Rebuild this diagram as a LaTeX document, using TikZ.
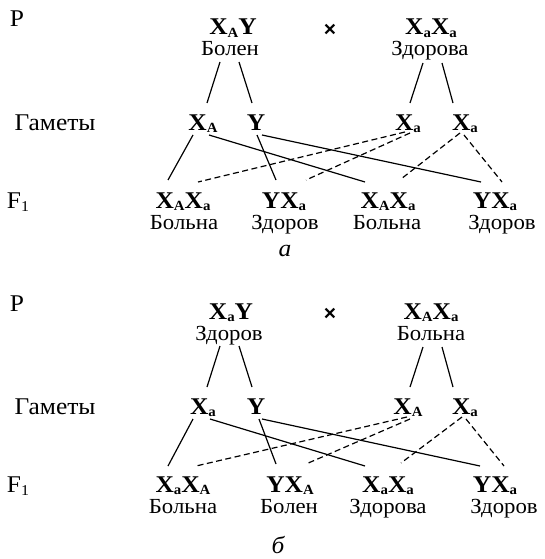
\documentclass[tikz,border=0pt]{standalone}
\usepackage{fontspec}
\setmainfont{Liberation Serif}[FakeStretch=1.06]
\newfontfamily\crossfont{Liberation Sans}
\newcommand\gsub[1]{\raisebox{-0.2ex}{\fontsize{14}{14}\selectfont\bfseries #1}}
\newcommand\fsub[1]{\raisebox{-0.35ex}{\fontsize{15}{15}\selectfont #1}}
\tikzset{
  lbl/.style={inner sep=0pt, anchor=base, font=\fontsize{24}{24}\selectfont},
  geno/.style={inner sep=0pt, anchor=base, font=\fontsize{24}{24}\selectfont\bfseries},
  pheno/.style={inner sep=0pt, anchor=base, font=\fontsize{21.5}{21.5}\selectfont},
  capt/.style={inner sep=0pt, anchor=base, font=\fontsize{24}{24}\selectfont\itshape},
  crossm/.style={inner sep=0pt, font=\fontsize{21}{21}\selectfont\crossfont\bfseries},
  link/.style={line width=1.2pt},
  dlink/.style={line width=1.2pt, dash pattern=on 6pt off 3.5pt}
}
\begin{document}
\begin{tikzpicture}[x=1pt,y=-1pt]
\useasboundingbox (0,0) rectangle (545,559);
% ---------- part a ----------
\node[lbl] (Pa) at (17,27) {P};
\node[geno] (pa1) at (233,35) {X\gsub{A}Y};
\node[pheno] (la1) at (230,56) {Болен};
\node[crossm] (xa) at (330,30) {×};
\node[geno] (pa2) at (431,35) {X\gsub{a}X\gsub{a}};
\node[pheno] (la2) at (430,56) {Здорова};
\node[lbl] (Ga) at (55,130) {Гаметы};
\node[geno] (ga1) at (203,130) {X\gsub{A}};
\node[geno] (ga2) at (256,130) {Y};
\node[geno] (ga3) at (408,130) {X\gsub{a}};
\node[geno] (ga4) at (465,130) {X\gsub{a}};
\node[lbl] (Fa) at (18,208) {F\fsub{1}};
\node[geno] (oa1) at (183,208) {X\gsub{A}X\gsub{a}};
\node[geno] (oa2) at (284,208) {YX\gsub{a}};
\node[geno] (oa3) at (388,208) {X\gsub{A}X\gsub{a}};
\node[geno] (oa4) at (495,208) {YX\gsub{a}};
\node[pheno] (fa1) at (184,229) {Больна};
\node[pheno] (fa2) at (285,229) {Здоров};
\node[pheno] (fa3) at (387,229) {Больна};
\node[pheno] (fa4) at (502,229) {Здоров};
\node[capt] (ca) at (285,256) {а};
\draw[link] ([shift={(-10,6)}]la1.base) -- ([shift={(4,-27)}]ga1.base);
\draw[link] ([shift={(9,6)}]la1.base) -- ([shift={(-4,-27)}]ga2.base);
\draw[link] ([shift={(-7,7)}]la2.base) -- ([shift={(2,-27)}]ga3.base);
\draw[link] ([shift={(12,7)}]la2.base) -- ([shift={(-12,-27)}]ga4.base);
\draw[link] ([shift={(-10,5)}]ga1.base) -- ([shift={(-15,-28)}]oa1.base);
\draw[link] ([shift={(6,5)}]ga1.base) -- ([shift={(-23,-26)}]oa3.base);
\draw[link] ([shift={(1,5)}]ga2.base) -- ([shift={(-8,-28)}]oa2.base);
\draw[link] ([shift={(6,5)}]ga2.base) -- ([shift={(-14,-26)}]oa4.base);
\draw[dlink] ([shift={(-3,2)}]ga3.base) -- ([shift={(15,-26)}]oa1.base);
\draw[dlink] ([shift={(2,3)}]ga3.base) -- ([shift={(22,-28)}]oa2.base);
\draw[dlink] ([shift={(-5,3)}]ga4.base) -- ([shift={(13,-29)}]oa3.base);
\draw[dlink] ([shift={(-1,5)}]ga4.base) -- ([shift={(7,-26)}]oa4.base);
% ---------- part b ----------
\node[lbl] (Pb) at (17,311) {P};
\node[geno] (pb1) at (231,319) {X\gsub{a}Y};
\node[pheno] (lb1) at (229,340) {Здоров};
\node[crossm] (xb) at (330,314) {×};
\node[geno] (pb2) at (431,319) {X\gsub{A}X\gsub{a}};
\node[pheno] (lb2) at (431,340) {Больна};
\node[lbl] (Gb) at (55,414) {Гаметы};
\node[geno] (gb1) at (203,414) {X\gsub{a}};
\node[geno] (gb2) at (256,414) {Y};
\node[geno] (gb3) at (408,414) {X\gsub{A}};
\node[geno] (gb4) at (465,414) {X\gsub{a}};
\node[lbl] (Fb) at (18,492) {F\fsub{1}};
\node[geno] (ob1) at (183,492) {X\gsub{a}X\gsub{A}};
\node[geno] (ob2) at (290,492) {YX\gsub{A}};
\node[geno] (ob3) at (388,492) {X\gsub{a}X\gsub{a}};
\node[geno] (ob4) at (495,492) {YX\gsub{a}};
\node[pheno] (fb1) at (183,513) {Больна};
\node[pheno] (fb2) at (289,513) {Болен};
\node[pheno] (fb3) at (388,513) {Здорова};
\node[pheno] (fb4) at (504,513) {Здоров};
\node[capt] (cb) at (278,553) {б};
\draw[link] ([shift={(-9,6)}]lb1.base) -- ([shift={(4,-27)}]gb1.base);
\draw[link] ([shift={(10,6)}]lb1.base) -- ([shift={(-4,-27)}]gb2.base);
\draw[link] ([shift={(-8,7)}]lb2.base) -- ([shift={(2,-27)}]gb3.base);
\draw[link] ([shift={(11,7)}]lb2.base) -- ([shift={(-12,-27)}]gb4.base);
\draw[link] ([shift={(-10,5)}]gb1.base) -- ([shift={(-15,-26)}]ob1.base);
\draw[link] ([shift={(7,5)}]gb1.base) -- ([shift={(-23,-26)}]ob3.base);
\draw[link] ([shift={(3,5)}]gb2.base) -- ([shift={(-14,-28)}]ob2.base);
\draw[link] ([shift={(6,5)}]gb2.base) -- ([shift={(-15,-26)}]ob4.base);
\draw[dlink] ([shift={(-1,3)}]gb3.base) -- ([shift={(13,-26)}]ob1.base);
\draw[dlink] ([shift={(2,5)}]gb3.base) -- ([shift={(16,-28)}]ob2.base);
\draw[dlink] ([shift={(-3,3)}]gb4.base) -- ([shift={(13,-29)}]ob3.base);
\draw[dlink] ([shift={(1,5)}]gb4.base) -- ([shift={(9,-26)}]ob4.base);
\end{tikzpicture}
\end{document}
